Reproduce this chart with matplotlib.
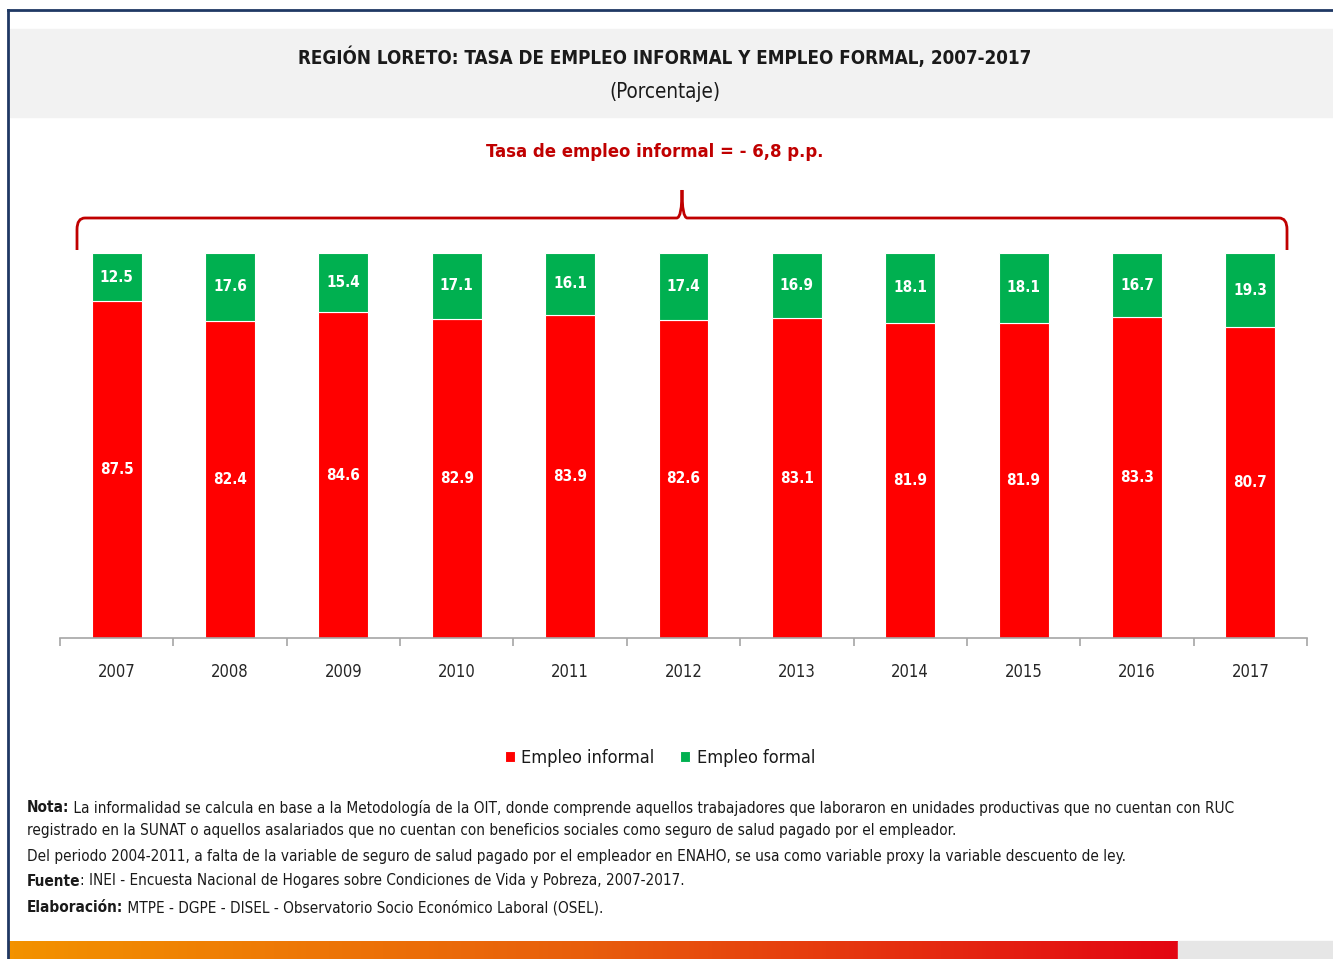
import numpy as np
import matplotlib.pyplot as plt
from matplotlib import font_manager
from matplotlib.patches import Rectangle, PathPatch
from matplotlib.path import Path as MPath
from matplotlib.colors import LinearSegmentedColormap

# the original uses a narrow font (Calibri); take a condensed face when available
condensed = [f for f in font_manager.fontManager.ttflist
             if f.name == 'DejaVu Sans' and f.stretch == 'condensed']
if condensed:
    plt.rcParams['font.family'] = ['DejaVu Sans']
    plt.rcParams['font.stretch'] = 'condensed'
else:
    plt.rcParams['font.family'] = ['Liberation Sans', 'DejaVu Sans']

years = ['2007', '2008', '2009', '2010', '2011', '2012',
         '2013', '2014', '2015', '2016', '2017']
informal = [87.5, 82.4, 84.6, 82.9, 83.9, 82.6, 83.1, 81.9, 81.9, 83.3, 80.7]
formal = [12.5, 17.6, 15.4, 17.1, 16.1, 17.4, 16.9, 18.1, 18.1, 16.7, 19.3]

RED = '#FF0000'
GREEN = '#00B050'
DARKRED = '#C00000'
INK = '#1a1a1a'

W, H = 1333, 959
fig = plt.figure(figsize=(W / 100, H / 100), dpi=100)
renderer = fig.canvas.get_renderer()


def fx(px):
    return px / W


def fy(py):
    return 1 - py / H


def fit_size(txt, width_px, weight='normal'):
    """font size that makes txt about width_px wide"""
    t = fig.text(0, 0, txt, fontsize=10, fontweight=weight)
    w = t.get_window_extent(renderer).width
    t.remove()
    return 10 * width_px / w


# frame + title band
fig.patches.append(Rectangle((fx(10), fy(117)), fx(1323), (117 - 29) / H,
                             transform=fig.transFigure, color='#F2F2F2', zorder=0))
fig.add_artist(plt.Line2D([fx(8), fx(8)], [fy(10), 0], color='#1F3864', lw=2))
fig.add_artist(plt.Line2D([fx(8), 1], [fy(10), fy(10)], color='#1F3864', lw=2))

title = 'REGIÓN LORETO: TASA DE EMPLEO INFORMAL Y EMPLEO FORMAL, 2007-2017'
fig.text(fx(665), fy(57), title, ha='center', va='center',
         fontsize=fit_size(title, 735, 'bold'), fontweight='bold', color=INK)
fig.text(fx(665), fy(92), '(Porcentaje)', ha='center', va='center',
         fontsize=fit_size('(Porcentaje)', 112), color=INK)

# main axes
ax = fig.add_axes([fx(60), fy(638), fx(1307 - 60), (638 - 253) / H])
x = np.arange(len(years))
bw = 0.44
bars_inf = ax.bar(x, informal, bw, color=RED, edgecolor='white', linewidth=0.8)
bars_for = ax.bar(x, formal, bw, bottom=informal, color=GREEN, edgecolor='white',
                  linewidth=0.8)
lab_size = fit_size('87.5', 34, 'bold')
for i in range(len(years)):
    ax.text(x[i], informal[i] / 2, f'{informal[i]:.1f}', ha='center', va='center',
            color='white', fontsize=lab_size, fontweight='bold')
    ax.text(x[i], informal[i] + formal[i] / 2, f'{formal[i]:.1f}', ha='center',
            va='center', color='white', fontsize=lab_size, fontweight='bold')

ax.set_xlim(-0.5, len(years) - 0.5)
ax.set_ylim(0, 100)
ax.set_yticks([])
ax.set_xticks(x)
ax.set_xticklabels(years, fontsize=fit_size('2007', 38), color='#262626')
ax.set_xticks(np.arange(-0.5, len(years)), minor=True)
ax.tick_params(axis='x', which='major', length=0, pad=18)
ax.tick_params(axis='x', which='minor', length=6, color='#A6A6A6', width=1.2)
for s in ['top', 'left', 'right']:
    ax.spines[s].set_visible(False)
ax.spines['bottom'].set_color('#A6A6A6')
ax.spines['bottom'].set_linewidth(1.2)

# brace above the bars
x0, x1, xm = fx(77), fx(1287), fx(682)
yb, yl, yp = fy(250), fy(218), fy(190)
r = 0.006
verts = [(x0, yb), (x0, yl - 0.012), (x0, yl), (x0 + r, yl),
         (xm - 0.004, yl), (xm, yl), (xm, yp),
         (xm, yl), (xm + 0.004, yl),
         (x1 - r, yl), (x1, yl), (x1, yl - 0.012), (x1, yb)]
codes = [MPath.MOVETO, MPath.LINETO, MPath.CURVE3, MPath.CURVE3,
         MPath.LINETO, MPath.CURVE3, MPath.CURVE3,
         MPath.CURVE3, MPath.CURVE3,
         MPath.LINETO, MPath.CURVE3, MPath.CURVE3, MPath.LINETO]
fig.patches.append(PathPatch(MPath(verts, codes), transform=fig.transFigure,
                             fill=False, edgecolor=DARKRED, lw=2))
note_top = 'Tasa de empleo informal = - 6,8 p.p.'
fig.text(fx(655), fy(152), note_top, ha='center', va='center',
         fontsize=fit_size(note_top, 336, 'bold'), fontweight='bold', color=DARKRED)

# legend
fig.legend(handles=[bars_inf[0], bars_for[0]],
           labels=['Empleo informal', 'Empleo formal'],
           loc='center', bbox_to_anchor=(fx(660), fy(758)), ncol=2, frameon=False,
           fontsize=fit_size('Empleo informal', 134), labelcolor=INK,
           handlelength=0.55, handleheight=0.55, handletextpad=0.35,
           columnspacing=1.4)

# notes
notes = [
    (808, 'Nota:', ' La informalidad se calcula en base a la Metodología de la OIT, donde comprende aquellos trabajadores que laboraron en unidades productivas que no cuentan con RUC'),
    (831, '', 'registrado en la SUNAT o aquellos asalariados que no cuentan con beneficios sociales como seguro de salud pagado por el empleador.'),
    (856, '', 'Del periodo 2004-2011, a falta de la variable de seguro de salud pagado por el empleador en ENAHO, se usa como variable proxy la variable descuento de ley.'),
    (881, 'Fuente', ': INEI - Encuesta Nacional de Hogares sobre Condiciones de Vida y Pobreza, 2007-2017.'),
    (908, 'Elaboración:', ' MTPE - DGPE - DISEL - Observatorio Socio Económico Laboral (OSEL).'),
]
note_size = fit_size(notes[0][1] + notes[0][2], 1205)
for py, bold, rest in notes:
    xpos = fx(27)
    if bold:
        t = fig.text(xpos, fy(py), bold, ha='left', va='center', fontsize=note_size,
                     fontweight='bold', color=INK)
        xpos = t.get_window_extent(renderer).x1 / W
    fig.text(xpos, fy(py), rest, ha='left', va='center', fontsize=note_size, color=INK)

# bottom gradient strip
cmap = LinearSegmentedColormap.from_list('strip', ['#F39200', '#E85D0C', '#E30613'])
gax = fig.add_axes([fx(9), 0, fx(1178 - 9), 18 / H])
gax.imshow(np.linspace(0, 1, 256)[None, :], cmap=cmap, aspect='auto')
gax.axis('off')
fig.patches.append(Rectangle((fx(1178), 0), fx(W - 1178), 18 / H,
                             transform=fig.transFigure, color='#E6E6E6', zorder=0))

fig.savefig('out.png', dpi=100)
